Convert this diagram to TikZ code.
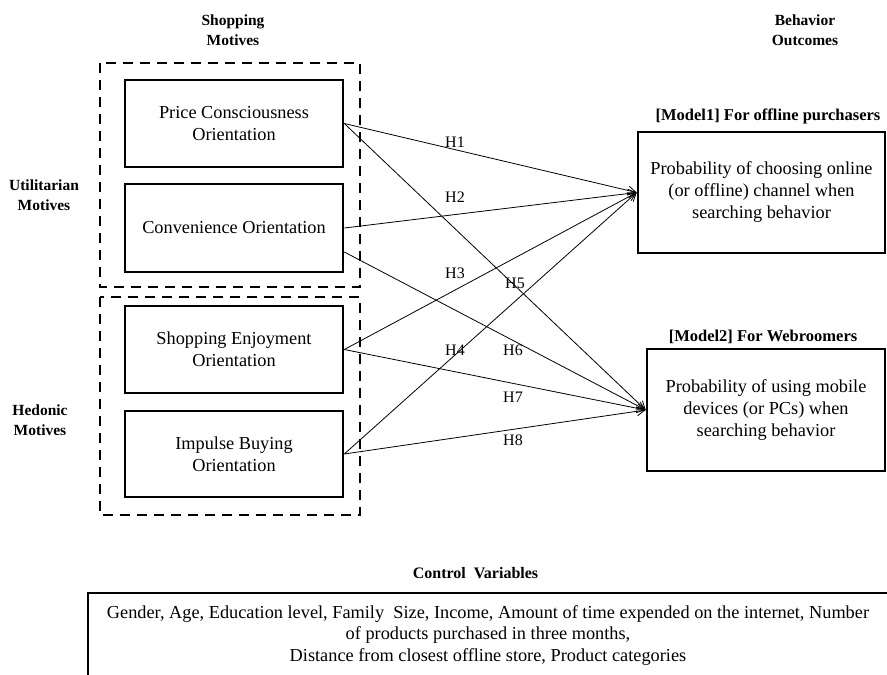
\documentclass[tikz,border=0pt]{standalone}
\usepackage{fontspec}
\setmainfont{Liberation Serif}
\usetikzlibrary{arrows.meta,calc}
\begin{document}
\begin{tikzpicture}[x=1pt,y=-1pt,
  box/.style={draw,line width=2.6pt,inner sep=0pt,align=center,font=\fontsize{18.3}{22}\selectfont},
  grp/.style={draw,line width=2.6pt,dash pattern=on 10pt off 7pt},
  head/.style={font=\bfseries\fontsize{15.5}{19.5}\selectfont,align=center,inner sep=0pt},
  mhead/.style={head,font=\bfseries\fontsize{16.5}{19.5}\selectfont},
  hl/.style={font=\fontsize{16}{18}\selectfont,inner sep=0pt},
  arr/.style={line width=0.8pt,-{Straight Barb[length=8pt,width=9pt]}}]
\useasboundingbox (0,0) rectangle (887,675);
\clip (0,0) rectangle (887,675);
\fill[white] (0,0) rectangle (887,675);
% headings
\node[head] (hsm) at (233,30) {Shopping\\Motives};
\node[head] (hbo) at (805,30) {Behavior\\Outcomes};
\node[head] (hum) at (44,195) {Utilitarian\\Motives};
\node[head] (hhm) at (40,420) {Hedonic\\Motives};
% group boxes
\draw[grp] (100,63) rectangle (360,287);
\draw[grp] (100,297) rectangle (360,515);
% left boxes
\node[box,minimum width=218pt,minimum height=87pt] (pc) at (234,123.5) {Price Consciousness\\Orientation};
\node[box,minimum width=218pt,minimum height=88pt] (cv) at (234,228) {Convenience Orientation};
\node[box,minimum width=218pt,minimum height=87pt] (se) at (234,349.5) {Shopping Enjoyment\\Orientation};
\node[box,minimum width=218pt,minimum height=86pt] (ib) at (234,454) {Impulse Buying\\Orientation};
% right boxes
\node[mhead] (l1) at (768,116) {[Model1] For offline purchasers};
\node[box,minimum width=247pt,minimum height=121pt] (m1) at (761.5,192.5) {Probability of choosing online\\(or offline) channel when\\searching behavior};
\node[mhead] (l2) at (763,337) {[Model2] For Webroomers};
\node[box,minimum width=238pt,minimum height=122pt] (m2) at (766,410) {Probability of using mobile\\devices (or PCs) when\\searching behavior};
% arrows
\draw[arr] (pc.east) -- (m1.west);
\draw[arr] (cv.east) -- (m1.west);
\draw[arr] (se.east) -- (m1.west);
\draw[arr] (ib.east) -- (m1.west);
\draw[arr] (pc.east) -- (m2.west);
\draw[arr] ($(cv.east)+(0,24)$) -- (m2.west);
\draw[arr] (se.east) -- (m2.west);
\draw[arr] (ib.east) -- (m2.west);
% hypothesis labels
\node[hl] (h1) at (455,142) {H1};
\node[hl] (h2) at (455,197) {H2};
\node[hl] (h3) at (455,273) {H3};
\node[hl] (h5) at (515,283) {H5};
\node[hl] (h4) at (455,350) {H4};
\node[hl] (h6) at (513,350) {H6};
\node[hl] (h7) at (513,397) {H7};
\node[hl] (h8) at (513,440) {H8};
% control variables
\node[head,font=\bfseries\fontsize{16}{19.5}\selectfont] (lc) at (475.5,573) {Control\ \ Variables};
\draw[line width=2.6pt] (895,593) -- (88,593) -- (88,700);
\node[align=center,inner sep=0pt,font=\fontsize{18.3}{21.5}\selectfont] (cvt) at (488,635.5) {Gender, Age, Education level, Family\ \ Size, Income, Amount of time expended on the internet, Number\\of products purchased in three months,\\Distance from closest offline store, Product categories};
\end{tikzpicture}
\end{document}
